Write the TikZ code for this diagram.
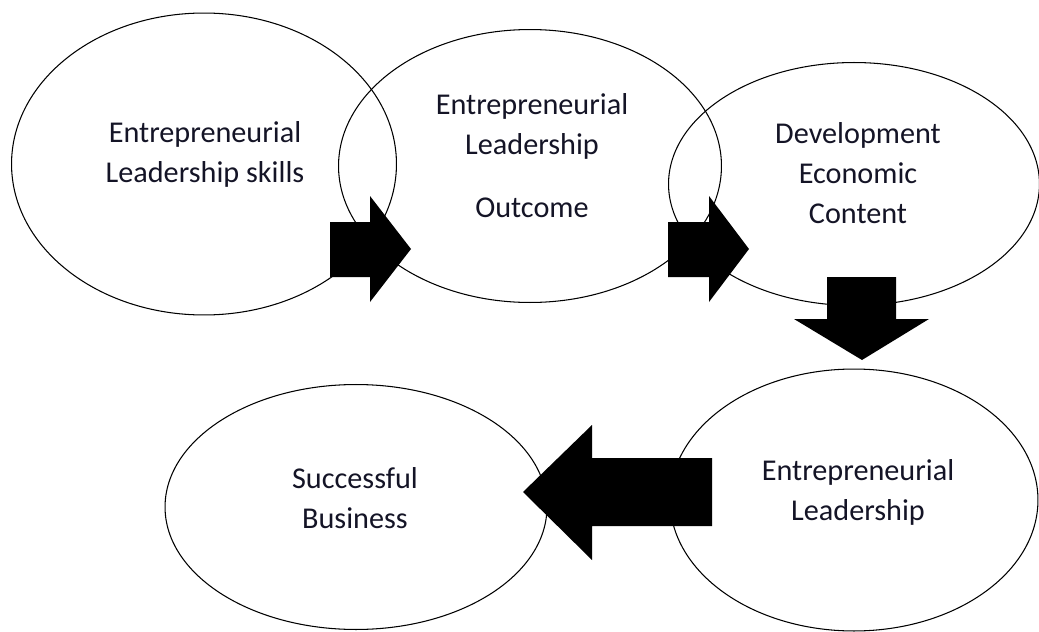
\documentclass[tikz,border=0pt]{standalone}
\usepackage{fontspec}
\setmainfont{Carlito}
\definecolor{txtnavy}{RGB}{20,20,38}
\usetikzlibrary{shapes.geometric}

\begin{document}
\begin{tikzpicture}[x=0.02cm, y=-0.02cm,
  bubble/.style={draw=black, line width=0.6pt, ellipse, inner sep=0pt, outer sep=0pt},
  bubbletext/.style={align=center, text=txtnavy, font=\fontsize{17.2}{22.8}\selectfont},
  blockarrow/.style={fill=black}]

\useasboundingbox (0,0) rectangle (1039,632);

% Top row
\node[bubble, minimum width=7.70cm, minimum height=6.04cm] (skills) at (204,164) {};
\node[bubble, minimum width=7.66cm, minimum height=5.46cm] (outcome) at (530,166) {};
\node[bubble, minimum width=7.42cm, minimum height=4.86cm] (econ) at (854,184) {};

% Bottom row
\node[bubble, minimum width=7.64cm, minimum height=4.90cm] (business) at (356,507) {};
\node[bubble, minimum width=7.36cm, minimum height=5.24cm] (leader) at (854,500) {};

% Texts
\node[bubbletext] (skills-txt) at (205,154) {Entrepreneurial\\Leadership skills};
\node[bubbletext] (outcome-txt) at (532,156) {Entrepreneurial\\Leadership\\[13pt]Outcome};
\node[bubbletext] (econ-txt) at (858,173) {Development\\Economic\\Content};
\node[bubbletext] (business-txt) at (355,498) {Successful\\Business};
\node[bubbletext] (leader-txt) at (858,492) {Entrepreneurial\\Leadership};

% Block arrows
\fill[blockarrow] (330,222) -- (370,222) -- (370,196) -- (411,249) -- (370,302)
  -- (370,277) -- (330,277) -- cycle;
\fill[blockarrow] (668,222) -- (709,222) -- (709,196) -- (749,249) -- (709,302)
  -- (709,277) -- (668,277) -- cycle;
\fill[blockarrow] (827,277) -- (896,277) -- (896,319) -- (929,319) -- (862,360)
  -- (794,319) -- (827,319) -- cycle;
\fill[blockarrow] (712,458) -- (592,458) -- (592,425) -- (523,492) -- (592,560)
  -- (592,526) -- (712,526) -- cycle;

\end{tikzpicture}
\end{document}
